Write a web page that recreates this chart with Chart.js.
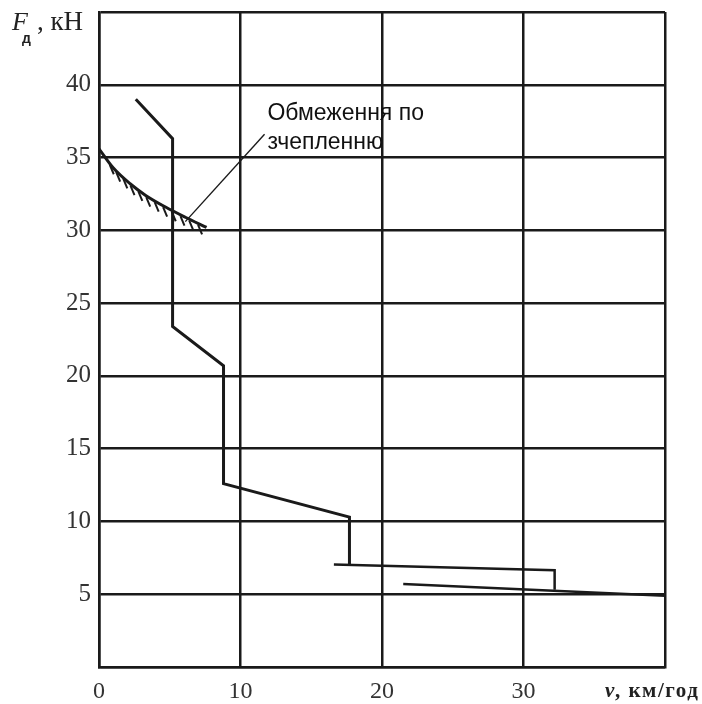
<!DOCTYPE html>
<html>
<head>
<meta charset="utf-8">
<script src="https://cdn.jsdelivr.net/npm/chart.js@4"></script>
<style>
  body { margin: 0; background: #fff; }
  #wrap { width: 702px; height: 704px; position: relative; }
</style>
</head>
<body>
<div id="wrap"><canvas id="chart"></canvas></div>
<script>
// Traction characteristic
const mainCurve = [
  {x: 2.6, y: 39.0}, {x: 5.2, y: 36.3}, {x: 5.2, y: 23.4},
  {x: 8.8, y: 20.7}, {x: 8.8, y: 12.6}, {x: 17.7, y: 10.3}, {x: 17.7, y: 7.0}
];
const gear5 = [{x: 16.6, y: 7.05}, {x: 32.2, y: 6.65}, {x: 32.2, y: 5.3}];
const gear6 = [{x: 21.5, y: 5.7}, {x: 40.0, y: 4.9}];
const adhesion = [
  {x: 0, y: 35.6}, {x: 1.0, y: 34.3}, {x: 2.2, y: 33.2}, {x: 3.3, y: 32.4},
  {x: 4.7, y: 31.6}, {x: 6.1, y: 30.9}, {x: 7.6, y: 30.2}
];
const leader = [{x: 6.1, y: 30.6}, {x: 11.7, y: 36.6}];

const xTicks = [0, 10, 20, 30];
const yTicks = [5, 10, 15, 20, 25, 30, 35, 40];
const noteLines = ['Обмеження по', 'зчепленню'];

const ink = '#1a1a1a';

// hatching under the adhesion limit + texts
const extras = {
  id: 'extras',
  afterDatasetsDraw(chart) {
    const {ctx, scales: {x, y}} = chart;
    ctx.save();
    // hatch ticks along adhesion curve
    const pts = adhesion.map(p => [x.getPixelForValue(p.x), y.getPixelForValue(p.y)]);
    const lastX = pts[pts.length - 1][0];
    ctx.strokeStyle = ink;
    ctx.lineWidth = 2;
    let next = 18, walked = 0;
    const step = 9.8;
    for (let i = 0; i < pts.length - 1; i++) {
      const [x0, y0] = pts[i], [x1, y1] = pts[i + 1];
      const len = Math.hypot(x1 - x0, y1 - y0);
      while (next <= walked + len) {
        const t = (next - walked) / len;
        const px = x0 + (x1 - x0) * t, py = y0 + (y1 - y0) * t;
        if (px < lastX - 6) {
          ctx.beginPath();
          ctx.moveTo(px, py + 1.5);
          ctx.lineTo(px + 4, py + 11);
          ctx.stroke();
        }
        next += step;
      }
      walked += len;
    }
    // note
    ctx.fillStyle = '#111';
    ctx.font = '23px "Liberation Sans", Arial, sans-serif';
    ctx.textAlign = 'left';
    ctx.textBaseline = 'alphabetic';
    ctx.fillText(noteLines[0], x.getPixelForValue(11.9), y.getPixelForValue(37.6));
    ctx.fillText(noteLines[1], x.getPixelForValue(11.9), y.getPixelForValue(35.6));
    // axis titles
    ctx.fillStyle = '#222';
    ctx.font = 'italic 26px "Liberation Serif", serif';
    ctx.fillText('F', 12, 30);
    ctx.font = 'bold 14px "Liberation Sans", sans-serif';
    ctx.fillText('д', 22, 43);
    ctx.font = '27px "Liberation Serif", serif';
    ctx.fillText(', кН', 37, 30);
    ctx.font = 'italic bold 21px "Liberation Serif", serif';
    ctx.fillText('v', 605, 697);
    ctx.letterSpacing = '1.5px';
    ctx.font = 'bold 21px "Liberation Serif", serif';
    ctx.fillText(', км/год', 615, 697);
    ctx.restore();
  }
};

const lineDs = (data, w) => ({
  data, showLine: true, borderColor: ink, borderWidth: w,
  pointRadius: 0, fill: false, tension: 0
});

new Chart(document.getElementById('chart'), {
  type: 'scatter',
  data: {
    datasets: [
      lineDs(mainCurve, 3),
      lineDs(gear5, 2.5),
      lineDs(gear6, 2.5),
      Object.assign(lineDs(adhesion, 3), {cubicInterpolationMode: 'monotone'}),
      lineDs(leader, 1.4)
    ]
  },
  options: {
    responsive: true,
    maintainAspectRatio: false,
    animation: false,
    layout: {padding: {left: 0, top: 12, right: 37, bottom: 0}},
    plugins: {legend: {display: false}, tooltip: {enabled: false}},
    scales: {
      x: {
        type: 'linear', min: 0, max: 40,
        afterBuildTicks: s => { s.ticks = [...xTicks, 40].map(v => ({value: v})); },
        afterFit: s => { s.height = 37; s.paddingLeft = 0; s.paddingRight = 0; },
        grid: {color: ink, lineWidth: 2.5, drawTicks: false},
        border: {color: ink, width: 2.5},
        ticks: {
          padding: 10, color: '#333', maxRotation: 0,
          font: {family: '"Liberation Serif", serif', size: 24},
          callback: v => xTicks.includes(v) ? String(v) : ''
        }
      },
      y: {
        type: 'linear', min: 0, max: 45,
        afterBuildTicks: s => { s.ticks = [0, ...yTicks, 45].map(v => ({value: v})); },
        afterFit: s => { s.width = 99; s.paddingTop = 0; s.paddingBottom = 0; },
        grid: {color: ink, lineWidth: 2.5, drawTicks: false},
        border: {color: ink, width: 2.5},
        ticks: {
          padding: 8, color: '#333',
          font: {family: '"Liberation Serif", serif', size: 25},
          callback: v => yTicks.includes(v) ? String(v) : ''
        }
      }
    }
  },
  plugins: [extras]
});
</script>
</body>
</html>
